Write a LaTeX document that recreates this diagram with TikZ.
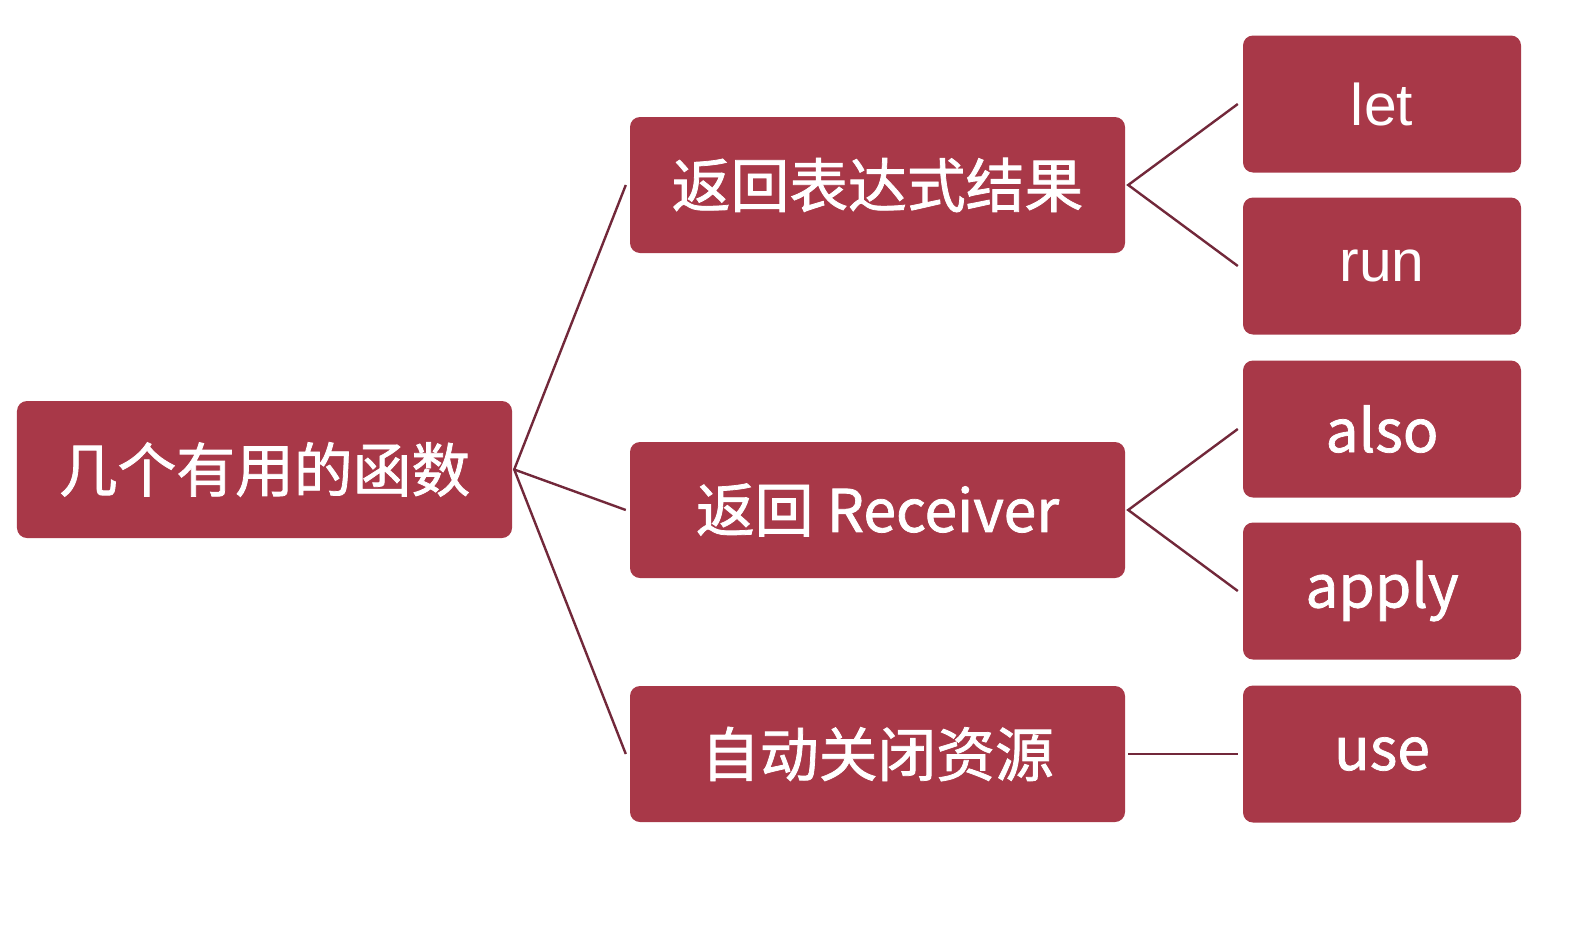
\documentclass[tikz,border=0pt]{standalone}
\usepackage{fontspec}
\setmainfont{Noto Sans CJK SC}[FakeBold=1.3]
\newfontfamily\arialfont{Liberation Sans}
\definecolor{boxred}{HTML}{A83848}
\definecolor{linered}{HTML}{72283A}
\begin{document}
\begin{tikzpicture}[x=1bp,y=-1bp,
  box/.style={fill=boxred, rounded corners=10bp, text=white, inner sep=0pt, anchor=center},
  rootbox/.style={box, minimum width=495bp, minimum height=137bp, font=\fontsize{59}{62}\selectfont},
  midbox/.style={box, minimum width=495bp, minimum height=136bp, font=\fontsize{59}{62}\selectfont},
  leafbox/.style={box, minimum width=278bp, minimum height=137bp, font=\fontsize{59}{62}\selectfont},
  conn/.style={draw=linered, line width=2.4bp}]
\useasboundingbox (0,0) rectangle (1588,924);
\node[rootbox] (root) at (264.5,469.5) {几个有用的函数};
\node[midbox] (m1) at (877.5,185) {返回表达式结果};
\node[midbox] (m2) at (877.5,510) {返回 Receiver};
\node[midbox] (m3) at (877.5,754) {自动关闭资源};
\node[leafbox] (let) at (1382,104) {\arialfont let};
\node[leafbox] (run) at (1382,266) {\arialfont run};
\node[leafbox] (also) at (1382,429) {also};
\node[leafbox] (apply) at (1382,591) {apply};
\node[leafbox] (use) at (1382,754) {use};
\coordinate (r0) at ([xshift=2bp]root.east);
\coordinate (m1in) at ([xshift=-4bp]m1.west);
\coordinate (m2in) at ([xshift=-4bp]m2.west);
\coordinate (m3in) at ([xshift=-4bp]m3.west);
\draw[conn] (m1in) -- (r0) -- (m3in);
\draw[conn] (r0) -- (m2in);
\coordinate (m1o) at ([xshift=3bp]m1.east);
\coordinate (m2o) at ([xshift=3bp]m2.east);
\coordinate (m3o) at ([xshift=3bp]m3.east);
\draw[conn] ([xshift=-5bp]let.west) -- (m1o) -- ([xshift=-5bp]run.west);
\draw[conn] ([xshift=-5bp]also.west) -- (m2o) -- ([xshift=-5bp]apply.west);
\draw[conn] (m3o) -- ([xshift=-5bp]use.west);
\end{tikzpicture}
\end{document}
